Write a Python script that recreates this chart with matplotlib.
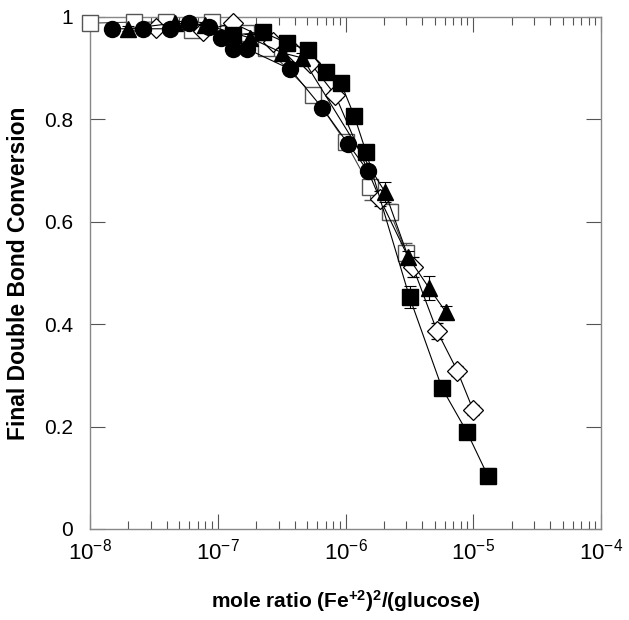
import math
import matplotlib
matplotlib.use("Agg")
import matplotlib.pyplot as plt
from matplotlib.ticker import LogLocator, FixedLocator, NullFormatter, FuncFormatter

plt.rcParams['font.family'] = ['Liberation Sans', 'DejaVu Sans']
plt.rcParams['mathtext.fontset'] = 'custom'
plt.rcParams['mathtext.rm'] = 'Liberation Sans'
plt.rcParams['mathtext.it'] = 'Liberation Sans'
plt.rcParams['mathtext.bf'] = 'Liberation Sans:bold'

# ---- data ----
open_sq_x = [1.0e-8, 2.2e-8, 3.9e-8, 6.3e-8, 9.0e-8, 1.66e-7, 2.4e-7, 5.6e-7, 1.0e-6, 1.56e-6, 2.23e-6, 3.0e-6]
open_sq_y = [0.988, 0.99, 0.99, 0.975, 0.99, 0.969, 0.94, 0.848, 0.756, 0.668, 0.619, 0.539]
open_sq_err = [0.005, 0.005, 0.005, 0.008, 0.005, 0.01, 0.01, 0.012, 0.012, 0.025, 0.015, 0.02]

circle_x = [1.49e-8, 2.6e-8, 4.2e-8, 6.0e-8, 8.5e-8, 1.06e-7, 1.32e-7, 1.7e-7, 3.7e-7, 6.6e-7, 1.05e-6, 1.5e-6]
circle_y = [0.977, 0.977, 0.977, 0.988, 0.98, 0.959, 0.9375, 0.9375, 0.898, 0.822, 0.752, 0.699]
circle_err = [0.004, 0.004, 0.004, 0.004, 0.004, 0.005, 0.005, 0.005, 0.006, 0.008, 0.01, 0.01]

tri_x = [1.98e-8, 4.6e-8, 8.0e-8, 1.8e-7, 3.2e-7, 4.6e-7, 2.04e-6, 3.1e-6, 4.5e-6, 6.1e-6]
tri_y = [0.977, 0.988, 0.985, 0.959, 0.93, 0.92, 0.658, 0.531, 0.471, 0.424]
tri_err = [0.005, 0.005, 0.005, 0.008, 0.01, 0.01, 0.02, 0.012, 0.023, 0.012]

dia_x = [3.3e-8, 7.7e-8, 1.32e-7, 2.7e-7, 4.0e-7, 5.3e-7, 8.3e-7, 1.86e-6, 3.37e-6, 5.2e-6, 7.5e-6, 1.0e-5]
dia_y = [0.978, 0.973, 0.988, 0.951, 0.93, 0.91, 0.848, 0.645, 0.512, 0.387, 0.309, 0.232]
dia_err = [0.004, 0.004, 0.004, 0.006, 0.008, 0.008, 0.01, 0.015, 0.02, 0.015, 0.01, 0.01]

sq_x = [1.32e-7, 2.26e-7, 3.5e-7, 5.1e-7, 7.0e-7, 9.2e-7, 1.17e-6, 1.45e-6, 3.17e-6, 5.7e-6, 8.9e-6, 1.3e-5]
sq_y = [0.965, 0.97, 0.949, 0.936, 0.893, 0.871, 0.807, 0.736, 0.453, 0.275, 0.19, 0.104]
sq_err = [0.005, 0.005, 0.006, 0.006, 0.008, 0.008, 0.01, 0.01, 0.022, 0.01, 0.01, 0.015]

y_ticks = [0, 0.2, 0.4, 0.6, 0.8, 1.0]
x_ticks = [1e-8, 1e-7, 1e-6, 1e-5, 1e-4]

# ---- figure ----
fig = plt.figure(figsize=(6.29, 6.20), dpi=100)
ax = fig.add_axes([90/629, 1 - 529/620, (601 - 90)/629, (529 - 17)/620])

ekw = dict(elinewidth=0.8, capsize=4, capthick=0.8, ecolor='black')

ax.errorbar(open_sq_x, open_sq_y, yerr=open_sq_err, fmt='-', color='#444444', lw=0.8,
            marker='s', ms=11, mfc='white', mec='#555555', mew=1.0,
            clip_on=False, zorder=3, ecolor='#555555', elinewidth=0.8, capsize=4, capthick=0.8)
ax.errorbar(dia_x, dia_y, yerr=dia_err, fmt='-', color='black', lw=0.8,
            marker='D', ms=10, mfc='white', mec='black', mew=0.9,
            clip_on=False, zorder=4, **ekw)
ax.errorbar(tri_x, tri_y, yerr=tri_err, fmt='-', color='black', lw=0.8,
            marker='^', ms=11, mfc='black', mec='black',
            clip_on=False, zorder=5, **ekw)
ax.errorbar(circle_x, circle_y, yerr=circle_err, fmt='-', color='black', lw=0.8,
            marker='o', ms=11.5, mfc='black', mec='black',
            clip_on=False, zorder=6, **ekw)
ax.errorbar(sq_x, sq_y, yerr=sq_err, fmt='-', color='black', lw=0.8,
            marker='s', ms=11, mfc='black', mec='black',
            clip_on=False, zorder=5, **ekw)

ax.set_xscale('log')
ax.set_xlim(1e-8, 1e-4)
ax.set_ylim(0, 1)

ax.xaxis.set_major_locator(FixedLocator(x_ticks))
ax.xaxis.set_minor_locator(LogLocator(base=10, subs=range(2, 10), numticks=20))
ax.xaxis.set_minor_formatter(NullFormatter())
ax.xaxis.set_major_formatter(FuncFormatter(lambda v, p: r'$10^{%d}$' % round(math.log10(v))))
ax.yaxis.set_major_locator(FixedLocator(y_ticks))
ax.yaxis.set_major_formatter(FuncFormatter(lambda v, p: '%g' % v))

ax.tick_params(axis='both', which='major', direction='in', length=11, width=0.8,
               top=True, right=True, color='#555555')
ax.tick_params(axis='x', which='major', labelsize=16, pad=7)
ax.tick_params(axis='y', which='major', labelsize=15, pad=12)
ax.tick_params(axis='x', which='minor', direction='in', length=6, width=0.8,
               top=True, bottom=True, color='#555555')
ax.tick_params(axis='y', which='minor', left=False, right=False)

for s in ax.spines.values():
    s.set_color('#888888')
    s.set_linewidth(1.0)

ax.set_xlabel(r'mole ratio (Fe$^{\mathbf{+2}}$)$^{\mathbf{2}}$/(glucose)', fontsize=15,
              fontweight='bold', labelpad=17)
ax.set_ylabel('Final Double Bond Conversion', fontsize=16.5, fontweight='bold', labelpad=10)

fig.savefig('out.png', dpi=100)
